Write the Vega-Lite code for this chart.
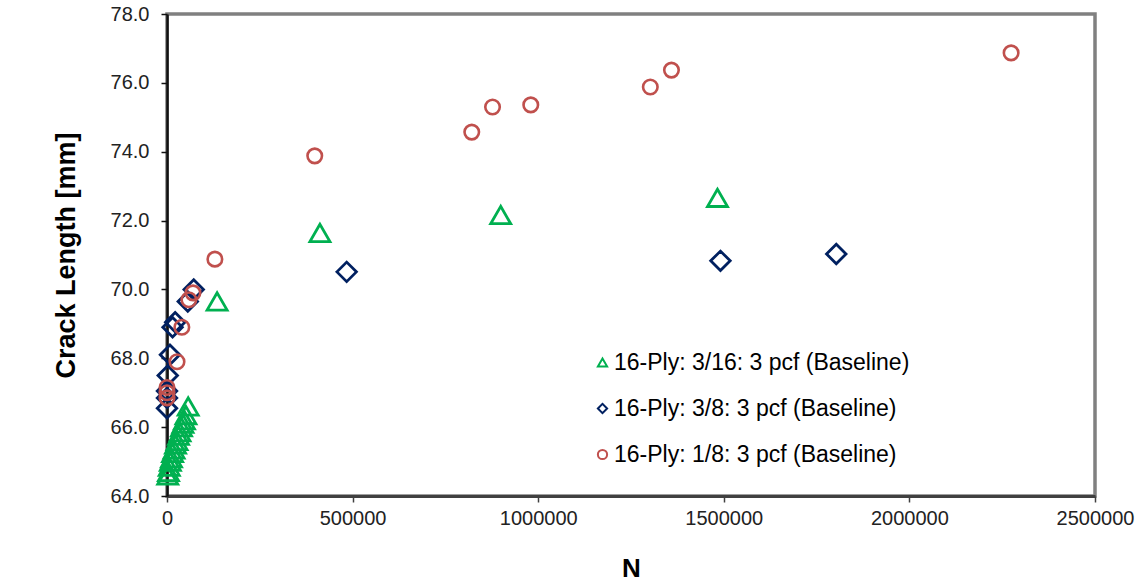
{
  "$schema": "https://vega.github.io/schema/vega-lite/v6.json",
  "width": 928,
  "height": 482,
  "autosize": {"type": "none"},
  "padding": {"left": 167, "top": 14, "right": 47, "bottom": 86},
  "background": "white",
  "config": {
    "view": {"stroke": "#808080", "strokeWidth": 3.5},
    "font": "Liberation Sans"
  },
  "data": {
    "values": [
      {"series": "16-Ply: 3/16: 3 pcf (Baseline)", "N": 2000, "L": 64.6},
      {"series": "16-Ply: 3/16: 3 pcf (Baseline)", "N": 4000, "L": 64.7},
      {"series": "16-Ply: 3/16: 3 pcf (Baseline)", "N": 6000, "L": 64.85},
      {"series": "16-Ply: 3/16: 3 pcf (Baseline)", "N": 9000, "L": 65.0},
      {"series": "16-Ply: 3/16: 3 pcf (Baseline)", "N": 12000, "L": 65.1},
      {"series": "16-Ply: 3/16: 3 pcf (Baseline)", "N": 15000, "L": 65.25},
      {"series": "16-Ply: 3/16: 3 pcf (Baseline)", "N": 19000, "L": 65.35},
      {"series": "16-Ply: 3/16: 3 pcf (Baseline)", "N": 23000, "L": 65.5},
      {"series": "16-Ply: 3/16: 3 pcf (Baseline)", "N": 27000, "L": 65.6},
      {"series": "16-Ply: 3/16: 3 pcf (Baseline)", "N": 31000, "L": 65.75},
      {"series": "16-Ply: 3/16: 3 pcf (Baseline)", "N": 35000, "L": 65.85},
      {"series": "16-Ply: 3/16: 3 pcf (Baseline)", "N": 39000, "L": 66.0},
      {"series": "16-Ply: 3/16: 3 pcf (Baseline)", "N": 43000, "L": 66.1},
      {"series": "16-Ply: 3/16: 3 pcf (Baseline)", "N": 47000, "L": 66.2},
      {"series": "16-Ply: 3/16: 3 pcf (Baseline)", "N": 51000, "L": 66.35},
      {"series": "16-Ply: 3/16: 3 pcf (Baseline)", "N": 57000, "L": 66.6},
      {"series": "16-Ply: 3/16: 3 pcf (Baseline)", "N": 135000, "L": 69.65},
      {"series": "16-Ply: 3/16: 3 pcf (Baseline)", "N": 412000, "L": 71.64},
      {"series": "16-Ply: 3/16: 3 pcf (Baseline)", "N": 899000, "L": 72.16},
      {"series": "16-Ply: 3/16: 3 pcf (Baseline)", "N": 1483000, "L": 72.66},
      {"series": "16-Ply: 3/8: 3 pcf (Baseline)", "N": 0, "L": 66.55},
      {"series": "16-Ply: 3/8: 3 pcf (Baseline)", "N": 0, "L": 66.85},
      {"series": "16-Ply: 3/8: 3 pcf (Baseline)", "N": 0, "L": 67.05},
      {"series": "16-Ply: 3/8: 3 pcf (Baseline)", "N": 2000, "L": 67.5},
      {"series": "16-Ply: 3/8: 3 pcf (Baseline)", "N": 8000, "L": 68.1},
      {"series": "16-Ply: 3/8: 3 pcf (Baseline)", "N": 15000, "L": 68.9},
      {"series": "16-Ply: 3/8: 3 pcf (Baseline)", "N": 22000, "L": 69.05},
      {"series": "16-Ply: 3/8: 3 pcf (Baseline)", "N": 56000, "L": 69.65},
      {"series": "16-Ply: 3/8: 3 pcf (Baseline)", "N": 72000, "L": 70.0},
      {"series": "16-Ply: 3/8: 3 pcf (Baseline)", "N": 484000, "L": 70.51},
      {"series": "16-Ply: 3/8: 3 pcf (Baseline)", "N": 1491000, "L": 70.83},
      {"series": "16-Ply: 3/8: 3 pcf (Baseline)", "N": 1803000, "L": 71.03},
      {"series": "16-Ply: 1/8: 3 pcf (Baseline)", "N": 0, "L": 66.85},
      {"series": "16-Ply: 1/8: 3 pcf (Baseline)", "N": 0, "L": 67.0},
      {"series": "16-Ply: 1/8: 3 pcf (Baseline)", "N": 0, "L": 67.15},
      {"series": "16-Ply: 1/8: 3 pcf (Baseline)", "N": 27000, "L": 67.9},
      {"series": "16-Ply: 1/8: 3 pcf (Baseline)", "N": 40000, "L": 68.9},
      {"series": "16-Ply: 1/8: 3 pcf (Baseline)", "N": 59000, "L": 69.7},
      {"series": "16-Ply: 1/8: 3 pcf (Baseline)", "N": 70000, "L": 69.9},
      {"series": "16-Ply: 1/8: 3 pcf (Baseline)", "N": 129000, "L": 70.88},
      {"series": "16-Ply: 1/8: 3 pcf (Baseline)", "N": 398000, "L": 73.88},
      {"series": "16-Ply: 1/8: 3 pcf (Baseline)", "N": 821000, "L": 74.57},
      {"series": "16-Ply: 1/8: 3 pcf (Baseline)", "N": 877000, "L": 75.3},
      {"series": "16-Ply: 1/8: 3 pcf (Baseline)", "N": 980000, "L": 75.36},
      {"series": "16-Ply: 1/8: 3 pcf (Baseline)", "N": 1302000, "L": 75.88},
      {"series": "16-Ply: 1/8: 3 pcf (Baseline)", "N": 1359000, "L": 76.37},
      {"series": "16-Ply: 1/8: 3 pcf (Baseline)", "N": 2274000, "L": 76.87}
    ]
  },
  "encoding": {
    "x": {
      "field": "N", "type": "quantitative",
      "scale": {"domain": [0, 2500000], "nice": false, "zero": false},
      "axis": {
        "values": [0, 500000, 1000000, 1500000, 2000000, 2500000],
        "format": "d", "grid": false, "title": "N",
        "domainColor": "#404040", "domainWidth": 3,
        "tickColor": "#404040", "tickSize": 6, "tickWidth": 1.5,
        "labelFont": "Liberation Sans", "labelFontSize": 20, "labelColor": "#222222", "labelPadding": 6,
        "labelFlush": false, "labelOverlap": false,
        "titleFont": "Liberation Sans", "titleFontSize": 26, "titleFontWeight": "bold", "titleColor": "#000000", "titlePadding": 27
      }
    },
    "y": {
      "field": "L", "type": "quantitative",
      "scale": {"domain": [64, 78], "nice": false, "zero": false},
      "axis": {
        "values": [64, 66, 68, 70, 72, 74, 76, 78],
        "format": ".1f", "grid": false, "title": "Crack Length [mm]",
        "domainColor": "#111111", "domainWidth": 2.5,
        "tickColor": "#111111", "tickSize": 6, "tickWidth": 1.5,
        "labelFont": "Liberation Sans", "labelFontSize": 20, "labelColor": "#222222", "labelPadding": 12,
        "labelFlush": false, "labelOverlap": false,
        "titleFont": "Liberation Sans", "titleFontSize": 27, "titleFontWeight": "bold", "titleColor": "#000000", "titlePadding": 30
      }
    },
    "color": {
      "field": "series", "type": "nominal",
      "scale": {
        "domain": ["16-Ply: 3/16: 3 pcf (Baseline)", "16-Ply: 3/8: 3 pcf (Baseline)", "16-Ply: 1/8: 3 pcf (Baseline)"],
        "range": ["#00B050", "#002060", "#C0504D"]
      },
      "legend": {
        "title": null, "orient": "none", "legendX": 424, "legendY": 337,
        "labelFont": "Liberation Sans", "labelFontSize": 23, "labelColor": "#000000",
        "symbolSize": 85, "symbolStrokeWidth": 2, "rowPadding": 22, "labelOffset": 0, "padding": 0, "labelLimit": 500
      }
    },
    "shape": {
      "field": "series", "type": "nominal",
      "scale": {
        "domain": ["16-Ply: 3/16: 3 pcf (Baseline)", "16-Ply: 3/8: 3 pcf (Baseline)", "16-Ply: 1/8: 3 pcf (Baseline)"],
        "range": ["triangle-up", "diamond", "circle"]
      }
    }
  },
  "layer": [
    {
      "transform": [{"filter": "datum.series === '16-Ply: 3/16: 3 pcf (Baseline)'"}],
      "mark": {"type": "point", "filled": false, "strokeWidth": 2.8, "opacity": 1, "size": 400}
    },
    {
      "transform": [{"filter": "datum.series === '16-Ply: 3/8: 3 pcf (Baseline)'"}],
      "mark": {"type": "point", "filled": false, "strokeWidth": 2.8, "opacity": 1, "size": 380}
    },
    {
      "transform": [{"filter": "datum.series === '16-Ply: 1/8: 3 pcf (Baseline)'"}],
      "mark": {"type": "point", "filled": false, "strokeWidth": 2.6, "opacity": 1, "size": 210}
    }
  ]
}
